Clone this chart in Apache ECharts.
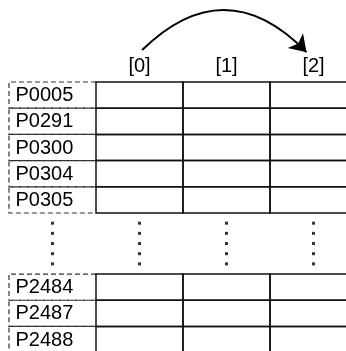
<!DOCTYPE html>
<html>
<head>
<meta charset="utf-8">
<script src="https://cdn.jsdelivr.net/npm/echarts@6/dist/echarts.min.js"></script>
<style>
html,body{margin:0;padding:0;background:#fff;}
#chart{width:346px;height:351px;}
</style>
</head>
<body>
<div id="chart"></div>
<script>
// ---- data ----
const rowLabels = ['P0005', 'P0291', 'P0300', 'P0304', 'P0305', 'P2484', 'P2487', 'P2488'];
const topRowCount = 5;
const colLabels = ['[0]', '[1]', '[2]'];
const gapRows = 2.33;
const dotCount = 5;
const arrowFrom = 0;   // column index where arrow starts
const arrowTo = 2;     // column index where arrow ends

// ---- layout (pixels) ----
const W = 346, H = 351;
const colW = 87, rowH = 26.2;
const tableLeft = 9, tableTop = 82;
const xMin = -1 - tableLeft / colW, xMax = xMin + W / colW;
const yMin = -tableTop / rowH, yMax = yMin + H / rowH;

const rowPos = rowLabels.map((_, i) => i < topRowCount ? i : i + gapRows);
const FONT = '"Liberation Sans", Arial, sans-serif';
const solid = '#111';
const dashed = '#333';

const labelData = rowLabels.map((l, i) => [rowPos[i], l]);
const cellData = [];
rowPos.forEach(y => colLabels.forEach((c, ci) => cellData.push([ci, y])));
const headerData = colLabels.map((c, ci) => [ci + 0.5, c]);
const dotData = [];
for (let c = -1; c < colLabels.length; c++) {
  for (let k = 1; k <= dotCount; k++) {
    dotData.push([c + 0.5, topRowCount + gapRows * k / (dotCount + 1)]);
  }
}

const chart = echarts.init(document.getElementById('chart'), null, {renderer: 'canvas'});
chart.setOption({
  animation: false,
  grid: {left: 0, right: 0, top: 0, bottom: 0},
  xAxis: {type: 'value', min: xMin, max: xMax, show: false},
  yAxis: {type: 'value', min: yMin, max: yMax, inverse: true, show: false},
  series: [
    {
      type: 'custom', clip: false, z: 1,
      data: labelData,
      renderItem: function (params, api) {
        const y = api.value(0);
        const p0 = api.coord([-1, y]);
        const p1 = api.coord([0, y + 1]);
        return {
          type: 'group',
          children: [
            {type: 'polyline', shape: {points: [[p1[0], p0[1]], [p0[0], p0[1]], [p0[0], p1[1]], [p1[0], p1[1]]]},
             style: {stroke: dashed, lineWidth: 1.2, lineDash: [5, 3], fill: null}},
            {type: 'text', x: p0[0] + 6.5, y: (p0[1] + p1[1]) / 2 + 0.5,
             style: {text: rowLabels[params.dataIndex], font: '20px ' + FONT, fill: '#000', align: 'left', verticalAlign: 'middle'}}
          ]
        };
      }
    },
    {
      type: 'custom', clip: false, z: 2,
      data: cellData,
      renderItem: function (params, api) {
        const c = api.value(0), y = api.value(1);
        const p0 = api.coord([c, y]);
        const p1 = api.coord([c + 1, y + 1]);
        return {type: 'rect', shape: {x: p0[0], y: p0[1], width: p1[0] - p0[0], height: p1[1] - p0[1]},
                style: {stroke: solid, lineWidth: 1.5, fill: null}};
      }
    },
    {
      type: 'custom', clip: false, z: 2,
      data: headerData,
      renderItem: function (params, api) {
        const p = api.coord([api.value(0), -0.6]);
        return {type: 'text', x: p[0], y: p[1],
                style: {text: colLabels[params.dataIndex], font: '20px ' + FONT, fill: '#000', align: 'center', verticalAlign: 'middle'}};
      }
    },
    {
      type: 'scatter', z: 3,
      symbol: 'rect', symbolSize: 3,
      itemStyle: {color: '#000'},
      data: dotData
    },
    {
      type: 'lines', coordinateSystem: 'cartesian2d', z: 4,
      symbol: ['none', 'arrow'], symbolSize: 16,
      lineStyle: {color: '#000', width: 2, curveness: 0.5, opacity: 1},
      data: [{coords: [[arrowFrom + 0.53, -1.22], [arrowTo + 0.42, -1.14]]}]
    }
  ]
});
</script>
</body>
</html>
